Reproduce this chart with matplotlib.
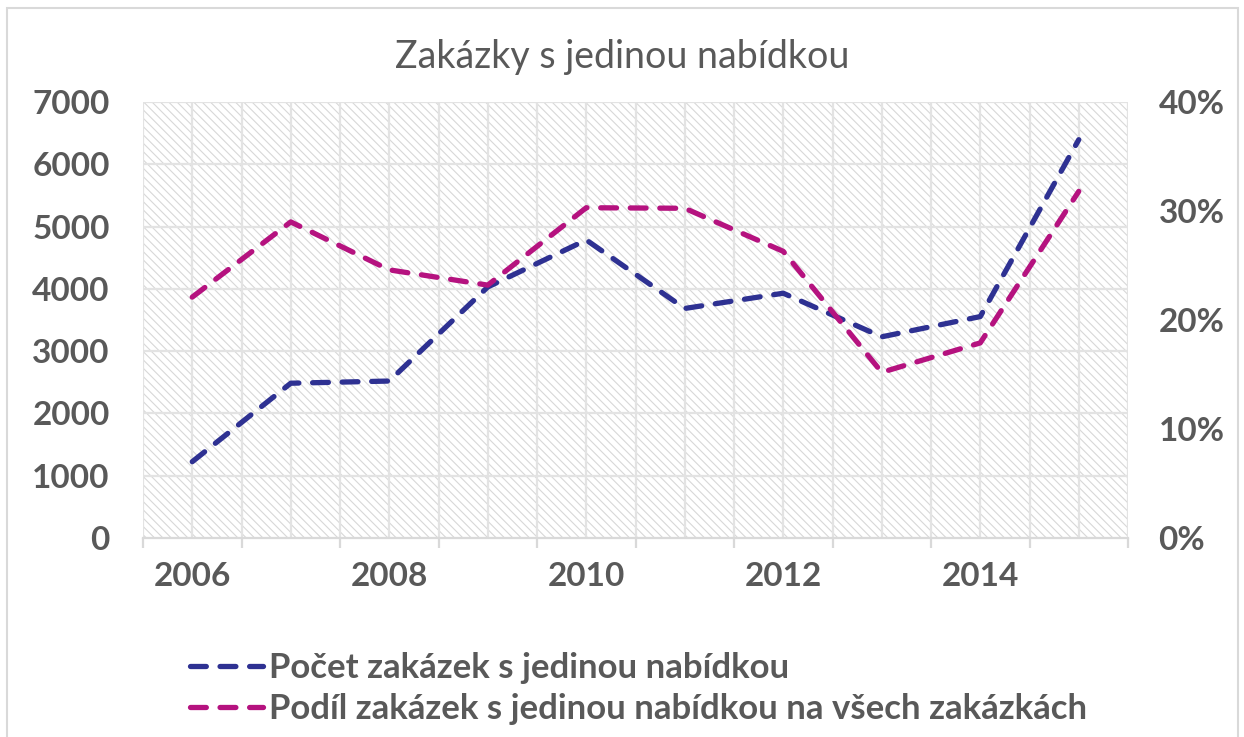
import numpy as np
import matplotlib.pyplot as plt
from matplotlib.patches import Rectangle
from matplotlib.ticker import FuncFormatter

years = [2006, 2007, 2008, 2009, 2010, 2011, 2012, 2013, 2014, 2015]
pocet = [1225, 2485, 2520, 4030, 4785, 3685, 3930, 3230, 3555, 6395]
podil = [22.1, 29.0, 24.6, 23.2, 30.3, 30.25, 26.3, 15.2, 17.9, 31.8]

TITLE = 'Zakázky s jedinou nabídkou'
LABEL_POCET = 'Počet zakázek s jedinou nabídkou'
LABEL_PODIL = 'Podíl zakázek s jedinou nabídkou na všech zakázkách'

BLUE = '#2e3192'
MAGENTA = '#b5127f'
TEXT = '#595959'
GRID = '#e3e3e3'

plt.rcParams['font.family'] = ['Lato', 'DejaVu Sans']
plt.rcParams['hatch.linewidth'] = 0.8

fig = plt.figure(figsize=(12.44, 7.37), dpi=100)
ax = fig.add_axes([143 / 1244, 1 - 538 / 737, 985 / 1244, 436 / 737])
ax2 = ax.twinx()

x = np.arange(len(years))
ax.set_xlim(-0.5, len(years) - 0.5)
ax.set_ylim(0, 7000)
ax2.set_ylim(0, 40)

# hatched plot background
bg = Rectangle((0, 0), 1, 1, transform=ax.transAxes, facecolor='white',
               edgecolor='#d8d8d8', hatch='\\\\\\\\', lw=0, zorder=0)
ax.add_patch(bg)
ax.set_facecolor('none')

# gridlines
for v in np.arange(-0.5, len(years), 0.5):
    ax.axvline(v, color=GRID, lw=1.6, zorder=1)
for v in np.arange(1000, 7001, 1000):
    ax.axhline(v, color=GRID, lw=1.6, zorder=1)

dash = dict(lw=3.8, dashes=(3.0, 2.6), dash_capstyle='round',
            solid_joinstyle='round', dash_joinstyle='round')
l1, = ax.plot(x, pocet, color=BLUE, zorder=3, **dash)
ax2.set_zorder(ax.get_zorder() + 1)
ax2.patch.set_visible(False)
l2, = ax2.plot(x, podil, color=MAGENTA, zorder=3, **dash)

# axes styling
for a in (ax, ax2):
    for s in a.spines.values():
        s.set_visible(False)
ax.spines['bottom'].set_visible(True)
ax.spines['bottom'].set_color('#d9d9d9')
ax.spines['bottom'].set_linewidth(1.6)

ax.set_xticks(np.arange(-0.5, len(years), 1))
ax.set_xticklabels([])
ax.tick_params(axis='x', which='major', length=7, width=1.6, color='#d9d9d9')
ax.set_xticks(x[::2], minor=True)
ax.set_xticklabels([str(y) for y in years[::2]], minor=True)
ax.tick_params(axis='x', which='minor', length=0, pad=17, labelsize=24,
               labelcolor=TEXT)

ax.set_yticks(np.arange(0, 7001, 1000))
ax.tick_params(axis='y', length=0, pad=24, labelsize=24, labelcolor=TEXT)
ax2.set_yticks(np.arange(0, 41, 10))
ax2.yaxis.set_major_formatter(FuncFormatter(lambda v, p: '{:.0f}%'.format(v)))
ax2.tick_params(axis='y', length=0, pad=22, labelsize=24, labelcolor=TEXT)
for lab in ax.get_xticklabels(minor=True) + ax.get_yticklabels() + ax2.get_yticklabels():
    lab.set_fontweight('bold')

fig.text(0.5, 1 - 57 / 737, TITLE, ha='center', va='center', fontsize=27,
         color=TEXT)

leg = fig.legend([l1, l2], [LABEL_POCET, LABEL_PODIL], loc='upper left',
                 bbox_to_anchor=(190 / 1244, 1 - 652 / 737), frameon=False,
                 borderpad=0, borderaxespad=0,
                 handlelength=2.1, handletextpad=0.17, labelspacing=0.26,
                 prop={'size': 25, 'weight': 'bold'})
for t in leg.get_texts():
    t.set_color(TEXT)

# chart border
fig.add_artist(Rectangle((7 / 1244, -0.01), 1231 / 1244, 1 - 8 / 737 + 0.01,
                         transform=fig.transFigure, fill=False,
                         edgecolor='#d9d9d9', lw=1.5))

fig.savefig('out.png', dpi=100)
